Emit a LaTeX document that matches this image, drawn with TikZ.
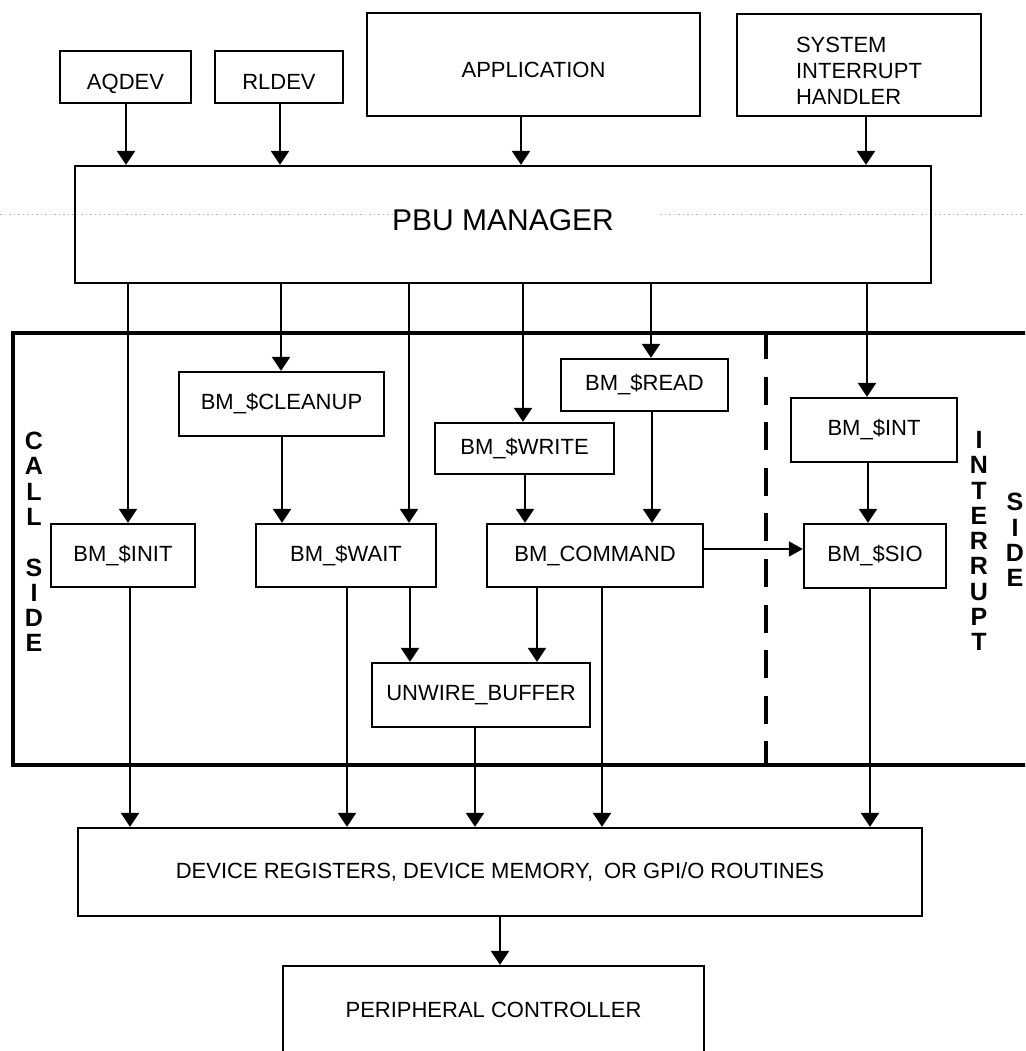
\documentclass[tikz,border=0pt]{standalone}
\usepackage{fontspec}
\setmainfont{Liberation Sans}
\usetikzlibrary{arrows.meta}
\tikzset{
  box/.style={draw, line width=2.3pt, inner sep=0pt, align=center, font=\fontsize{22}{26}\selectfont},
  lowtext/.style={text height=26pt, text depth=0pt},
  arr/.style={line width=2.2pt, -{Triangle[length=14pt,width=18pt]}},
  thinarr/.style={line width=1.7pt, -{Triangle[length=14pt,width=15pt]}},
  sidelbl/.style={font=\bfseries\fontsize{25}{25.3}\selectfont, align=center, inner sep=0pt},
  frameline/.style={line width=3.6pt},
  divider/.style={line width=4.5pt, dash pattern=on 28pt off 17.6pt, dash phase=2pt},
  scanline/.style={gray!55, line width=0.7pt, dash pattern=on 1.5pt off 3pt},
}
\begin{document}
\begin{tikzpicture}[x=1pt,y=-1pt]
\clip (0,0) rectangle (1025,1051);
\fill[white] (0,0) rectangle (1025,1051);

% region frame and divider
\draw[frameline] (13,333) rectangle (1045,765);
\draw[divider] (766,333) -- (766,765);

% faint scan line
\draw[scanline] (0,214) -- (410,214);
\draw[scanline] (660,214) -- (1025,214);

% top row
\node[box, lowtext, minimum width=131, minimum height=52] (aqdev) at (125.5,77) {AQDEV};
\node[box, lowtext, minimum width=128, minimum height=52] (rldev) at (279,77) {RLDEV};
\node[box, lowtext, minimum width=333, minimum height=103] (app) at (533.5,64.5) {APPLICATION};
\node[box, minimum width=244, minimum height=102,
      label={[name=sihtext, yshift=-6pt, align=left, inner sep=0pt, font=\fontsize{22}{26}\selectfont]center:SYSTEM\\INTERRUPT\\HANDLER}] (sih) at (859,65) {};

% manager
\node[box, minimum width=856, minimum height=117, text depth=8pt, font=\fontsize{30}{34}\selectfont] (pbu) at (503,224.5) {PBU MANAGER};

% call side
\node[box, minimum width=205, minimum height=64] (cleanup) at (281.5,404) {BM\_\$CLEANUP};
\node[box, minimum width=144, minimum height=63] (init) at (123,555.5) {BM\_\$INIT};
\node[box, minimum width=180, minimum height=63] (wait) at (346,555.5) {BM\_\$WAIT};
\node[box, minimum width=179, minimum height=51] (write) at (524.5,448.5) {BM\_\$WRITE};
\node[box, minimum width=167, minimum height=52] (read) at (644.5,385) {BM\_\$READ};
\node[box, minimum width=216, minimum height=63] (command) at (595,555.5) {BM\_COMMAND};
\node[box, minimum width=218, minimum height=64] (unwire) at (481,695) {UNWIRE\_BUFFER};

% interrupt side
\node[box, minimum width=166, minimum height=64] (int) at (874,430) {BM\_\$INT};
\node[box, minimum width=142, minimum height=64] (sio) at (875,556) {BM\_\$SIO};

% bottom
\node[box, minimum width=844, minimum height=88] (dev) at (500,872) {DEVICE REGISTERS, DEVICE MEMORY,\enspace OR GPI/O ROUTINES};
\node[box, minimum width=421, minimum height=88] (pc) at (493.5,1010) {PERIPHERAL CONTROLLER};

% side labels
\node[sidelbl] (callside) at (34,542) {C\\A\\L\\L\\[25.3pt]S\\I\\D\\E};
\node[sidelbl] (intr) at (979,541) {I\\N\\T\\E\\R\\R\\U\\P\\T};
\node[sidelbl] (side2) at (1015,540) {S\\I\\D\\E};

% arrows into manager
\draw[arr] (aqdev.south -| 126,0) -- (pbu.north -| 126,0);
\draw[arr] (rldev.south -| 280,0) -- (pbu.north -| 280,0);
\draw[arr] (app.south -| 521,0) -- (pbu.north -| 521,0);
\draw[arr] (sih.south -| 866,0) -- (pbu.north -| 866,0);

% arrows out of manager
\draw[arr] (pbu.south -| 128,0) -- (init.north -| 128,0);
\draw[arr] (pbu.south -| 281,0) -- (cleanup.north -| 281,0);
\draw[arr] (pbu.south -| 409,0) -- (wait.north -| 409,0);
\draw[arr] (pbu.south -| 523,0) -- (write.north -| 523,0);
\draw[arr] (pbu.south -| 651,0) -- (read.north -| 651,0);
\draw[arr] (pbu.south -| 867,0) -- (int.north -| 867,0);

% internal arrows
\draw[arr] (cleanup.south -| 282,0) -- (wait.north -| 282,0);
\draw[arr] (write.south -| 525,0) -- (command.north -| 525,0);
\draw[arr] (read.south -| 652,0) -- (command.north -| 652,0);
\draw[arr] (int.south -| 868,0) -- (sio.north -| 868,0);
\draw[thinarr] (command.east |- 0,549) -- (sio.west |- 0,549);
\draw[arr] (wait.south -| 410,0) -- (unwire.north -| 410,0);
\draw[arr] (command.south -| 537,0) -- (unwire.north -| 537,0);

% arrows to device layer
\draw[arr] (init.south -| 130,0) -- (dev.north -| 130,0);
\draw[arr] (wait.south -| 347,0) -- (dev.north -| 347,0);
\draw[arr] (unwire.south -| 475,0) -- (dev.north -| 475,0);
\draw[arr] (command.south -| 602,0) -- (dev.north -| 602,0);
\draw[arr] (sio.south -| 870,0) -- (dev.north -| 870,0);
\draw[arr] (dev.south -| 500,0) -- (pc.north -| 500,0);
\end{tikzpicture}
\end{document}
